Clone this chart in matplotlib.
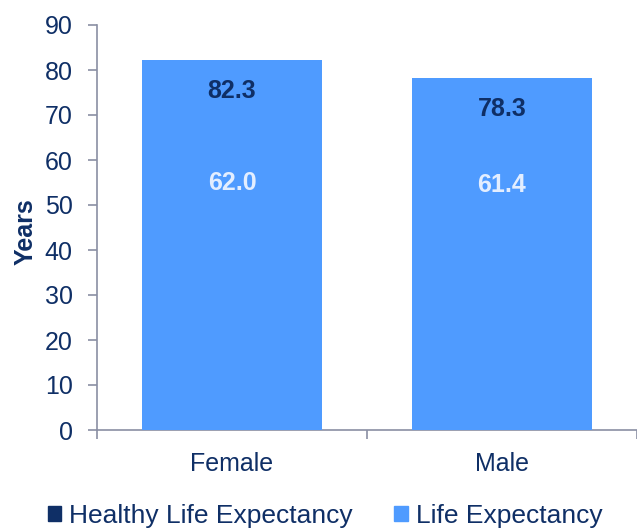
import matplotlib
matplotlib.use("Agg")
import matplotlib.pyplot as plt
from matplotlib.patches import Patch

plt.rcParams["font.family"] = ["Liberation Sans", "DejaVu Sans"]

categories = ["Female", "Male"]
life_expectancy = [82.3, 78.3]
healthy_life_expectancy = [62.0, 61.4]

NAVY = "#0F2F66"
BLUE = "#4F9BFF"
AXIS = "#8A8FA3"
FS = 18

fig = plt.figure(figsize=(6.37, 5.30), dpi=100)
ax = fig.add_axes([97 / 637, 1 - 430 / 530, 540 / 637, 405 / 530])

x = list(range(len(categories)))
ax.bar(x, life_expectancy, width=0.67, color=BLUE, zorder=2)
ax.bar(x, healthy_life_expectancy, width=0.665, color=BLUE, zorder=3)

# value labels sit a little below the top of each bar
for xi, le, hle in zip(x, life_expectancy, healthy_life_expectancy):
    ax.text(xi, le - 7, f"{le:.1f}", ha="center", va="center",
            fontsize=FS, fontweight="bold", color=NAVY, zorder=4)
    ax.text(xi, hle - 7, f"{hle:.1f}", ha="center", va="center",
            fontsize=FS, fontweight="bold", color="#E3EEFF", zorder=4)

ax.set_xlim(-0.5, 1.5)
ax.set_ylim(0, 90)
ax.set_yticks(range(0, 91, 10))
ax.set_xticks(x)
ax.set_xticklabels(categories)
ax.set_xticks([-0.5, 0.5, 1.5], minor=True)
ax.tick_params(axis="x", which="major", length=0, pad=16)
ax.tick_params(axis="x", which="minor", length=6.5, color=AXIS, width=1.2,
               direction="out")
ax.tick_params(axis="y", length=6.5, color=AXIS, width=1.2, direction="out",
               pad=11)
ax.tick_params(labelsize=FS, labelcolor=NAVY)

for side in ["top", "right"]:
    ax.spines[side].set_visible(False)
for side in ["left", "bottom"]:
    ax.spines[side].set_color(AXIS)
    ax.spines[side].set_linewidth(1.2)

ax.set_ylabel("Years", fontsize=FS, fontweight="bold", color=NAVY)
ax.yaxis.set_label_coords(-0.11, 0.49)

handles = [Patch(color=NAVY, label="Healthy Life Expectancy"),
           Patch(color=BLUE, label="Life Expectancy")]
fig.legend(handles=handles, loc="center", bbox_to_anchor=(0.51, 1 - 516 / 530),
           ncol=2, frameon=False, fontsize=19, labelcolor=NAVY,
           handlelength=0.5, handleheight=0.5, handletextpad=0.3,
           columnspacing=1.6, borderpad=0.1)

fig.savefig("out.png", dpi=100)
